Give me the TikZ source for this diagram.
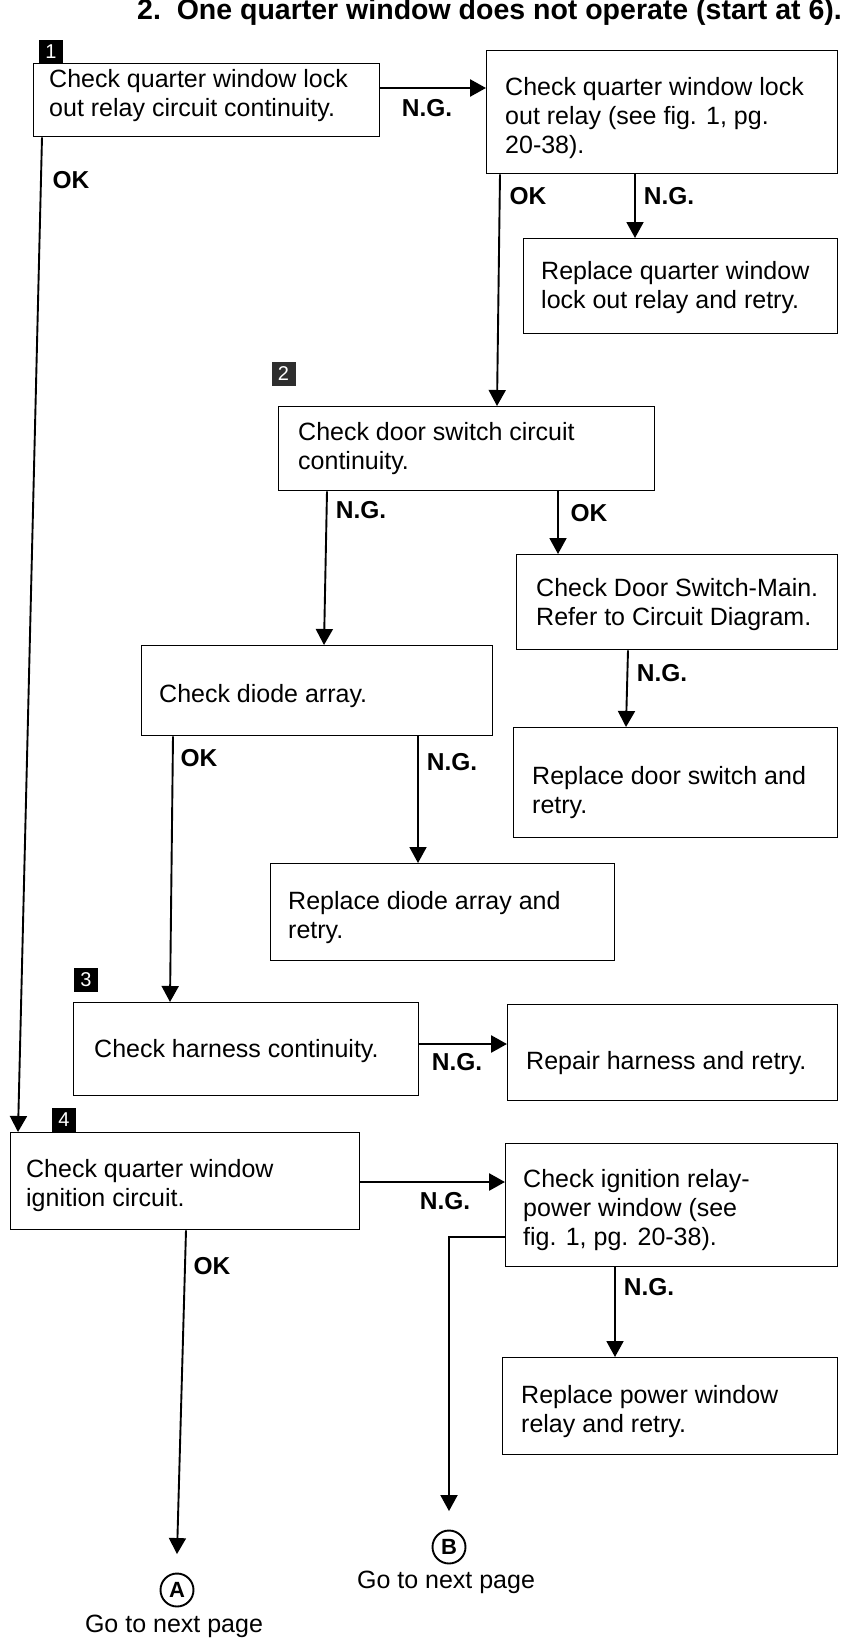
\documentclass[tikz,border=0pt]{standalone}
\usepackage{fontspec}
\setmainfont{Liberation Sans}
\usetikzlibrary{arrows.meta}
\begin{document}
\begin{tikzpicture}[x=1pt,y=-1pt]
\tikzset{
 frame/.style={draw=black, line width=1.3pt, inner sep=0pt, anchor=north west},
 txt/.style={anchor=north west, inner sep=0pt, align=left, font=\fontsize{25}{29}\selectfont},
 lbl/.style={inner sep=0pt, font=\fontsize{24.5}{28}\selectfont\bfseries},
 conn/.style={line width=1.9pt, -{Triangle[length=16pt,width=17pt]}},
 hconn/.style={line width=2.6pt, -{Triangle[length=16pt,width=17pt]}},
 numsq/.style={fill=black, text=white, inner sep=0pt, minimum width=24pt, minimum height=24pt, font=\fontsize{20}{20}\selectfont},
 endc/.style={circle, draw=black, line width=1.9pt, minimum size=33pt, inner sep=0pt, font=\fontsize{22}{22}\selectfont\bfseries},
 gonext/.style={inner sep=0pt, anchor=base, font=\fontsize{25}{29}\selectfont},
}
\clip (0,0) rectangle (841,1641);
\fill[white] (0,0) rectangle (841,1641);

% title
\node[anchor=base west, inner sep=0pt, font=\fontsize{28.5}{30}\selectfont\bfseries] (title) at (137,19) {2.\ \ One quarter window does not operate (start at 6).};

% number squares
\node[numsq] (sq1) at (51,51.5) {1};
\node[numsq, fill=black!82] (sq2) at (283.5,373.5) {2};
\node[numsq] (sq3) at (86,980) {3};
\node[numsq] (sq4) at (64,1120) {4};

% boxes
\node[frame, minimum width=346pt, minimum height=73pt] (A) at (33,63) {};
\node[txt] (At) at ([shift={(16,6)}]A.north west) {Check quarter window lock\\out relay circuit continuity.};

\node[frame, minimum width=351pt, minimum height=123pt] (B) at (486,50) {};
\node[txt] (Bt) at ([shift={(19,27)}]B.north west) {Check quarter window lock\\out relay (see fig. 1, pg.\\20-38).};

\node[frame, minimum width=314pt, minimum height=95pt] (C) at (523,238) {};
\node[txt] (Ct) at ([shift={(18,23)}]C.north west) {Replace quarter window\\lock out relay and retry.};

\node[frame, minimum width=376pt, minimum height=84pt] (D) at (278,406) {};
\node[txt] (Dt) at ([shift={(20,16)}]D.north west) {Check door switch circuit\\continuity.};

\node[frame, minimum width=351pt, minimum height=90pt] (E) at (141,645) {};
\node[txt] (Et) at ([shift={(18,39)}]E.north west) {Check diode array.};

\node[frame, minimum width=321pt, minimum height=95pt] (F) at (516,554) {};
\node[txt] (Ft) at ([shift={(20,24)}]F.north west) {Check Door Switch-Main.\\Refer to Circuit Diagram.};

\node[frame, minimum width=324pt, minimum height=110pt] (G) at (513,727) {};
\node[txt] (Gt) at ([shift={(19,39)}]G.north west) {Replace door switch and\\retry.};

\node[frame, minimum width=344pt, minimum height=97pt] (I) at (270,863) {};
\node[txt] (It) at ([shift={(18,28)}]I.north west) {Replace diode array and\\retry.};

\node[frame, minimum width=345pt, minimum height=93pt] (H) at (73,1002) {};
\node[txt] (Ht) at ([shift={(21,37)}]H.north west) {Check harness continuity.};

\node[frame, minimum width=330pt, minimum height=96pt] (J) at (507,1004) {};
\node[txt] (Jt) at ([shift={(19,47)}]J.north west) {Repair harness and retry.};

\node[frame, minimum width=349pt, minimum height=97pt] (K) at (10,1132) {};
\node[txt] (Kt) at ([shift={(16,27)}]K.north west) {Check quarter window\\ignition circuit.};

\node[frame, minimum width=332pt, minimum height=123pt] (L) at (505,1143) {};
\node[txt] (Lt) at ([shift={(18,26)}]L.north west) {Check ignition relay-\\power window (see\\fig. 1, pg. 20-38).};

\node[frame, minimum width=335pt, minimum height=97pt] (M) at (502,1357) {};
\node[txt] (Mt) at ([shift={(19,28)}]M.north west) {Replace power window\\relay and retry.};

% end circles
\node[endc] (cA) at (177,1590) {A};
\node[gonext] (goA) at (174,1632) {Go to next page};
\node[endc] (cB) at (449,1547) {B};
\node[gonext] (goB) at (446,1588) {Go to next page};

% connectors
\coordinate (ab) at ([shift={(0,25)}]A.north east);
\draw[hconn] (ab) -- (ab -| B.west);
\coordinate (hj) at ([shift={(0,42)}]H.north east);
\draw[hconn] (hj) -- (hj -| J.west);
\coordinate (kl) at ([shift={(0,50)}]K.north east);
\draw[hconn] (kl) -- (kl -| L.west);

\draw[conn] ([shift={(9,0)}]A.south west) -- ([shift={(8,0)}]K.north west);
\draw[conn] ([shift={(14,0)}]B.south west) -- ([shift={(219,0)}]D.north west);
\draw[conn] ([shift={(149,0)}]B.south west) -- ([shift={(112,0)}]C.north west);
\draw[conn] ([shift={(49,0)}]D.south west) -- ([shift={(183,0)}]E.north west);
\draw[conn] ([shift={(280,0)}]D.south west) -- ([shift={(42,0)}]F.north west);
\draw[conn] ([shift={(112,0)}]F.south west) -- ([shift={(113,0)}]G.north west);
\draw[conn] ([shift={(32,0)}]E.south west) -- ([shift={(97,0)}]H.north west);
\draw[conn] ([shift={(277,0)}]E.south west) -- ([shift={(148,0)}]I.north west);
\draw[conn] ([shift={(110,0)}]L.south west) -- ([shift={(113,0)}]M.north west);
\draw[conn] ([shift={(176,0)}]K.south west) -- ([shift={(0,-18.5)}]cA.north);
\draw[conn] ([shift={(0,94)}]L.north west) -| ([shift={(0,-18.5)}]cB.north);

% labels
\node[lbl] (l1) at (427,108) {N.G.};
\node[lbl] (l2) at (71,180) {OK};
\node[lbl] (l3) at (528,196) {OK};
\node[lbl] (l4) at (669,196) {N.G.};
\node[lbl] (l5) at (361,510) {N.G.};
\node[lbl] (l6) at (589,513) {OK};
\node[lbl] (l7) at (662,673) {N.G.};
\node[lbl] (l8) at (199,758) {OK};
\node[lbl] (l9) at (452,762) {N.G.};
\node[lbl] (l10) at (457,1062) {N.G.};
\node[lbl] (l11) at (445,1201) {N.G.};
\node[lbl] (l12) at (649,1287) {N.G.};
\node[lbl] (l13) at (212,1266) {OK};
\end{tikzpicture}
\end{document}
